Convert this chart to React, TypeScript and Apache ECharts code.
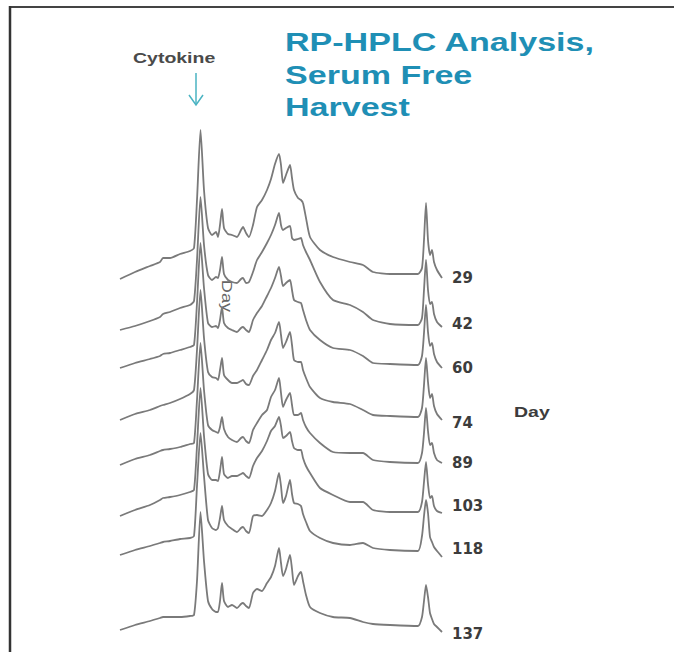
import React, { useEffect, useRef } from "react";
import * as echarts from "echarts";

// Retention time (min) sampling grid shared by all chromatograms
const retentionTimes = [
  0, 1.5, 3, 4, 4.3, 5, 6, 7, 7.4, 7.7, 8.05, 8.4, 8.8, 9.2, 9.6, 9.8, 10, 10.2, 10.4, 10.8,
  11.2, 11.7, 12.1, 12.3, 12.6, 12.9, 13.3, 13.7, 14.2, 14.7, 15.1, 15.5, 15.9, 16.1, 16.3, 16.6,
  17, 17.2, 17.4, 17.8, 18.1, 18.3, 18.6, 19, 20, 21.3, 23, 24.3, 25.3, 27, 29.8, 30.2, 30.4,
  30.6, 30.8, 31, 31.2, 31.4, 31.7, 32.2,
];

const days = ["29", "42", "60", "74", "89", "103", "118", "137"];

// vertical stacking offset of each trace (absorbance units)
const baselineOffsets = [361, 310, 272, 220, 175, 124, 84, 9];

const signalDay29 = [0, 7, 13, 17, 21, 21, 25, 28, 31, 79, 149, 89, 51, 44, 47, 42, 54, 70, 51, 45, 44, 42, 49, 52, 46, 42, 54, 72, 79, 89, 100, 115, 125, 114, 96, 104, 114, 101, 89, 81, 79, 76, 61, 42, 29, 22, 17, 14, 7, 5, 5, 11, 39, 76, 39, 24, 29, 17, 9, 1];
const signalDay42 = [0, 4, 9, 13, 16, 18, 22, 25, 29, 70, 133, 85, 55, 50, 53, 52, 60, 73, 56, 50, 48, 47, 51, 52, 47, 48, 58, 70, 78, 87, 95, 105, 117, 105, 100, 102, 104, 92, 90, 91, 92, 85, 78, 70, 48, 30, 25, 18, 10, 6, 5, 12, 40, 70, 40, 26, 28, 16, 8, 3];
const signalDay60 = [0, 5, 9, 12, 14, 15, 18, 21, 23, 65, 125, 80, 45, 41, 42, 40, 48, 61, 45, 40, 38, 36, 40, 41, 38, 36, 48, 55, 62, 72, 80, 90, 101, 92, 82, 85, 88, 78, 68, 66, 65, 58, 48, 38, 28, 20, 18, 12, 5, 4, 3, 12, 35, 63, 36, 22, 25, 14, 6, 0];
const signalDay74 = [0, 6, 10, 14, 15, 17, 21, 26, 30, 70, 130, 82, 48, 43, 42, 40, 50, 62, 45, 40, 37, 37, 39, 40, 36, 35, 44, 50, 60, 70, 80, 87, 98, 85, 72, 78, 88, 75, 60, 58, 58, 50, 42, 33, 22, 18, 16, 10, 5, 4, 3, 12, 35, 62, 38, 22, 26, 14, 6, 0];
const signalDay89 = [0, 6, 10, 14, 15, 16, 18, 21, 22, 65, 122, 75, 40, 35, 33, 32, 38, 48, 36, 28, 25, 23, 27, 28, 24, 22, 35, 42, 50, 55, 68, 75, 87, 72, 58, 65, 72, 60, 50, 50, 52, 45, 38, 32, 22, 13, 12, 12, 5, 3, 2, 12, 32, 57, 34, 20, 22, 12, 5, 2];
const signalDay103 = [0, 6, 11, 16, 18, 19, 21, 24, 26, 70, 128, 80, 42, 36, 36, 35, 45, 59, 42, 38, 40, 40, 42, 43, 40, 38, 50, 58, 65, 75, 85, 90, 99, 90, 78, 80, 84, 75, 68, 66, 66, 58, 50, 43, 28, 21, 14, 14, 6, 4, 4, 14, 34, 54, 32, 18, 20, 10, 5, 3];
const signalDay118 = [1, 6, 10, 13, 14, 15, 17, 18, 20, 70, 123, 80, 36, 28, 26, 28, 38, 50, 36, 30, 27, 24, 28, 29, 25, 23, 40, 41, 40, 46, 53, 65, 83, 70, 53, 60, 76, 62, 53, 52, 50, 42, 34, 25, 18, 13, 11, 13, 8, 6, 5, 20, 40, 56, 43, 19, 14, 9, 5, -1];
const signalDay137 = [1, 6, 10, 13, 14, 14, 14, 15, 16, 50, 119, 70, 30, 22, 19, 19, 30, 48, 30, 24, 26, 23, 27, 28, 25, 23, 38, 42, 40, 48, 54, 65, 83, 68, 55, 62, 76, 62, 46, 55, 59, 50, 36, 24, 18, 14, 13, 9, 7, 6, 5, 14, 30, 46, 34, 18, 12, 7, 4, -1];

const signals = [
  signalDay29, signalDay42, signalDay60, signalDay74,
  signalDay89, signalDay103, signalDay118, signalDay137,
];

// small vertical nudges of the day labels (px)
const labelNudge = [0, -3, 0, 3, 0, -7, -8, 2];

export default function App() {
  const ref = useRef<HTMLDivElement>(null);

  useEffect(() => {
    document.body.style.margin = "0";
    const chart = echarts.init(ref.current as HTMLDivElement, null, { renderer: "svg" });

    const series = days.map((d, i) => ({
      type: "line",
      name: "Day " + d,
      data: retentionTimes.map((t, j) => [t, baselineOffsets[i] + signals[i][j]]),
      showSymbol: false,
      symbol: "none",
      silent: true,
      smooth: 0.2,
      lineStyle: { color: "#7a7a7a", width: 1.8 },
      endLabel: {
        show: true,
        formatter: d,
        distance: 10,
        offset: [0, labelNudge[i]],
        color: "#3c3c3c",
        fontFamily: "DejaVu Sans",
        fontWeight: "bold",
        fontSize: 15,
      },
    }));

    const titleStyle = (text: string) => ({
      text,
      font: 'bold 26px "Liberation Sans"',
      fill: "#1f8fb5",
      textAlign: "left",
      textVerticalAlign: "middle",
    });

    chart.setOption({
      animation: false,
      backgroundColor: "#ffffff",
      grid: { left: 120, top: 120, width: 330, height: 520 },
      xAxis: { type: "value", min: 0, max: 33, show: false },
      yAxis: { type: "value", min: 0, max: 520, show: false },
      series,
      graphic: [
        { type: "line", shape: { x1: 9, y1: 7, x2: 674, y2: 7 }, style: { stroke: "#444", lineWidth: 2 } },
        { type: "line", shape: { x1: 10, y1: 6, x2: 10, y2: 652 }, style: { stroke: "#333", lineWidth: 2.5 } },
        { type: "text", x: 285, y: 42, scaleX: 1.31, style: titleStyle("RP-HPLC Analysis,") },
        { type: "text", x: 285, y: 75, scaleX: 1.31, style: titleStyle("Serum Free") },
        { type: "text", x: 285, y: 107, scaleX: 1.31, style: titleStyle("Harvest") },
        {
          type: "text", x: 133, y: 58, scaleX: 1.3,
          style: { text: "Cytokine", font: 'bold 15px "Liberation Sans"', fill: "#4a4a4a", textAlign: "left", textVerticalAlign: "middle" },
        },
        { type: "line", shape: { x1: 196, y1: 73, x2: 196, y2: 105 }, style: { stroke: "#4ab3c2", lineWidth: 1.5 } },
        { type: "polyline", shape: { points: [[189, 95], [196, 105], [203, 95]] }, style: { stroke: "#4ab3c2", lineWidth: 1.5, fill: null } },
        {
          type: "text", x: 514, y: 412, scaleX: 1.3,
          style: { text: "Day", font: 'bold 15px "Liberation Sans"', fill: "#3c3c3c", textAlign: "left", textVerticalAlign: "middle" },
        },
        {
          type: "text", x: 227, y: 296, rotation: -Math.PI / 2, scaleX: 1.3,
          style: { text: "Day", font: '14px "Liberation Sans"', fill: "#666", textAlign: "center", textVerticalAlign: "middle" },
        },
      ],
    });

    return () => chart.dispose();
  }, []);

  return <div ref={ref} style={{ width: 674, height: 652 }} />;
}
